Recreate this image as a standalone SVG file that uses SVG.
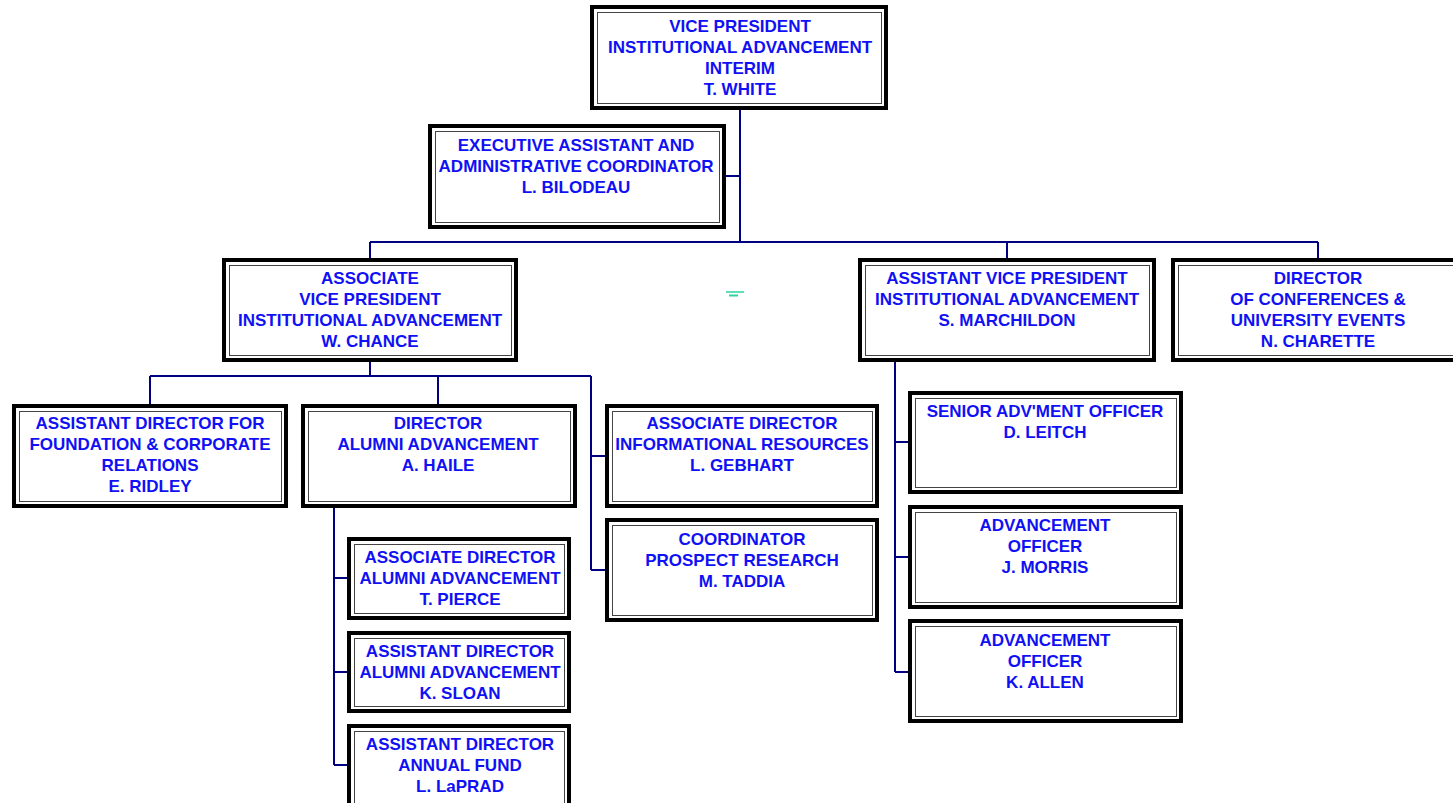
<svg xmlns="http://www.w3.org/2000/svg" width="1453" height="803" viewBox="0 0 1453 803">
<style>
.o{fill:#fff;stroke:#000;stroke-width:4}
.i{fill:none;stroke:#444;stroke-width:1}
.t{font-family:"Liberation Sans",Arial,sans-serif;font-weight:bold;font-size:17px;fill:#1010f5;text-anchor:middle}
.c{fill:none;stroke:#000080;stroke-width:2}
</style>
<rect width="1453" height="803" fill="#fff"/>
<g id="connectors">
<path class="c" d="M740 110V242M726 176H740M370 242H1318M370 242V258M1007 242V258M1318 242V258"/>
<path class="c" d="M370 362V376M150 376H591M150 376V404M438 376V404M591 376V570M591 456H605M591 570H605"/>
<path class="c" d="M334 508V765M334 578H347M334 672H347M334 765H347"/>
<path class="c" d="M895 360V672M895 442H908M895 557H908M895 672H908"/>
</g>
<g id="mark">
<line x1="726" y1="292" x2="744" y2="292" stroke="#2ad4a0" stroke-width="1.5"/>
<line x1="729" y1="295.5" x2="738" y2="295.5" stroke="#2ad4a0" stroke-width="2"/>
</g>
<g id="vp">
<rect class="o" x="592" y="7" width="294" height="101"/><rect class="i" x="597.5" y="12.5" width="284" height="91"/>
<text class="t" x="740" y="32">VICE PRESIDENT</text>
<text class="t" x="740" y="53">INSTITUTIONAL ADVANCEMENT</text>
<text class="t" x="740" y="74">INTERIM</text>
<text class="t" x="740" y="95">T. WHITE</text>
</g>
<g id="exec">
<rect class="o" x="430" y="126" width="294" height="101"/><rect class="i" x="435.5" y="131.5" width="284" height="91"/>
<text class="t" x="576" y="151">EXECUTIVE ASSISTANT AND</text>
<text class="t" x="576" y="172">ADMINISTRATIVE COORDINATOR</text>
<text class="t" x="576" y="193">L. BILODEAU</text>
</g>
<g id="avp">
<rect class="o" x="224" y="260" width="292" height="100"/><rect class="i" x="229.5" y="265.5" width="282" height="90"/>
<text class="t" x="370" y="284">ASSOCIATE</text>
<text class="t" x="370" y="305">VICE PRESIDENT</text>
<text class="t" x="370" y="326">INSTITUTIONAL ADVANCEMENT</text>
<text class="t" x="370" y="347">W. CHANCE</text>
</g>
<g id="asstvp">
<rect class="o" x="860" y="260" width="294" height="100"/><rect class="i" x="865.5" y="265.5" width="284" height="90"/>
<text class="t" x="1007" y="284">ASSISTANT VICE PRESIDENT</text>
<text class="t" x="1007" y="305">INSTITUTIONAL ADVANCEMENT</text>
<text class="t" x="1007" y="326">S. MARCHILDON</text>
</g>
<g id="conf">
<rect class="o" x="1173" y="260" width="300" height="100"/><rect class="i" x="1178.5" y="265.5" width="290" height="90"/>
<text class="t" x="1318" y="284">DIRECTOR</text>
<text class="t" x="1318" y="305">OF CONFERENCES &amp;</text>
<text class="t" x="1318" y="326">UNIVERSITY EVENTS</text>
<text class="t" x="1318" y="347">N. CHARETTE</text>
</g>
<g id="ridley">
<rect class="o" x="14" y="406" width="272" height="100"/><rect class="i" x="19.5" y="411.5" width="262" height="90"/>
<text class="t" x="150" y="429">ASSISTANT DIRECTOR FOR</text>
<text class="t" x="150" y="450">FOUNDATION &amp; CORPORATE</text>
<text class="t" x="150" y="471">RELATIONS</text>
<text class="t" x="150" y="492">E. RIDLEY</text>
</g>
<g id="haile">
<rect class="o" x="303" y="406" width="272" height="100"/><rect class="i" x="308.5" y="411.5" width="262" height="90"/>
<text class="t" x="438" y="429">DIRECTOR</text>
<text class="t" x="438" y="450">ALUMNI ADVANCEMENT</text>
<text class="t" x="438" y="471">A. HAILE</text>
</g>
<g id="gebhart">
<rect class="o" x="607" y="406" width="270" height="100"/><rect class="i" x="612.5" y="411.5" width="260" height="90"/>
<text class="t" x="742" y="429">ASSOCIATE DIRECTOR</text>
<text class="t" x="742" y="450">INFORMATIONAL RESOURCES</text>
<text class="t" x="742" y="471">L. GEBHART</text>
</g>
<g id="taddia">
<rect class="o" x="607" y="520" width="270" height="100"/><rect class="i" x="612.5" y="525.5" width="260" height="90"/>
<text class="t" x="742" y="545">COORDINATOR</text>
<text class="t" x="742" y="566">PROSPECT RESEARCH</text>
<text class="t" x="742" y="587">M. TADDIA</text>
</g>
<g id="pierce">
<rect class="o" x="349" y="539" width="220" height="79"/><rect class="i" x="354.5" y="544.5" width="210" height="69"/>
<text class="t" x="460" y="563">ASSOCIATE DIRECTOR</text>
<text class="t" x="460" y="584">ALUMNI ADVANCEMENT</text>
<text class="t" x="460" y="605">T. PIERCE</text>
</g>
<g id="sloan">
<rect class="o" x="349" y="633" width="220" height="78"/><rect class="i" x="354.5" y="638.5" width="210" height="68"/>
<text class="t" x="460" y="657">ASSISTANT DIRECTOR</text>
<text class="t" x="460" y="678">ALUMNI ADVANCEMENT</text>
<text class="t" x="460" y="699">K. SLOAN</text>
</g>
<g id="laprad">
<rect class="o" x="349" y="726" width="220" height="90"/><rect class="i" x="354.5" y="731.5" width="210" height="80"/>
<text class="t" x="460" y="750">ASSISTANT DIRECTOR</text>
<text class="t" x="460" y="771">ANNUAL FUND</text>
<text class="t" x="460" y="792">L. LaPRAD</text>
</g>
<g id="leitch">
<rect class="o" x="910" y="393" width="271" height="99"/><rect class="i" x="915.5" y="398.5" width="261" height="89"/>
<text class="t" x="1045" y="417">SENIOR ADV'MENT OFFICER</text>
<text class="t" x="1045" y="438">D. LEITCH</text>
</g>
<g id="morris">
<rect class="o" x="910" y="507" width="271" height="100"/><rect class="i" x="915.5" y="512.5" width="261" height="90"/>
<text class="t" x="1045" y="531">ADVANCEMENT</text>
<text class="t" x="1045" y="552">OFFICER</text>
<text class="t" x="1045" y="573">J. MORRIS</text>
</g>
<g id="allen">
<rect class="o" x="910" y="621" width="271" height="100"/><rect class="i" x="915.5" y="626.5" width="261" height="90"/>
<text class="t" x="1045" y="646">ADVANCEMENT</text>
<text class="t" x="1045" y="667">OFFICER</text>
<text class="t" x="1045" y="688">K. ALLEN</text>
</g>
</svg>
